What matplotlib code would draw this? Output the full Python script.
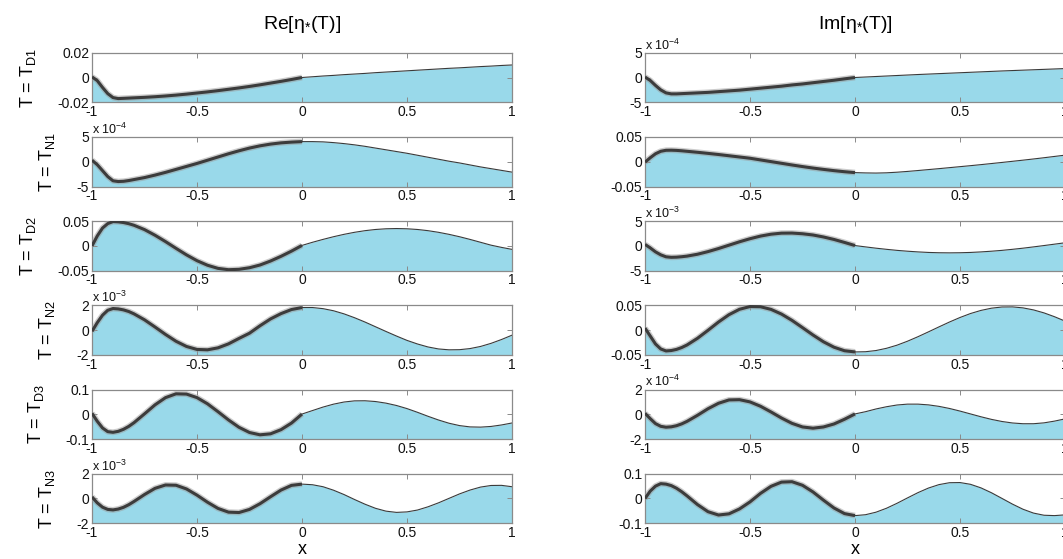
import matplotlib
matplotlib.use("Agg")
import matplotlib.pyplot as plt
import numpy as np

plt.rcParams['font.family'] = ['Liberation Sans', 'DejaVu Sans']
plt.rcParams['mathtext.fontset'] = 'custom'
plt.rcParams['mathtext.rm'] = 'Liberation Sans'
plt.rcParams['mathtext.it'] = 'Liberation Sans:italic'
plt.rcParams['axes.unicode_minus'] = False

# spatial coordinate (shared by every panel)
x = [-1, -0.975, -0.95, -0.925, -0.9, -0.875, -0.85, -0.825, -0.8,
     -0.75, -0.7, -0.65, -0.6, -0.55, -0.5, -0.45, -0.4, -0.35, -0.3, -0.25,
     -0.2, -0.15, -0.1, -0.05, 0,
     0.05, 0.1, 0.15, 0.2, 0.25, 0.3, 0.35, 0.4, 0.45, 0.5, 0.55, 0.6, 0.65,
     0.7, 0.75, 0.8, 0.85, 0.9, 0.95, 1.0]

# Re[eta*(T)] profiles (values in axis units, see exponents below)
re_d1 = [0.0005, -0.0025, -0.0080, -0.0130, -0.0162, -0.0170, -0.0168, -0.0166, -0.0164,
         -0.0160, -0.0155, -0.0149, -0.0142, -0.0134, -0.0125, -0.0116, -0.0106, -0.0095, -0.0084, -0.0072,
         -0.0059, -0.0045, -0.0031, -0.0016, 0.0000,
         0.0006, 0.0012, 0.0017, 0.0023, 0.0028, 0.0033, 0.0039, 0.0044, 0.0049, 0.0054, 0.0059, 0.0064, 0.0069,
         0.0074, 0.0078, 0.0083, 0.0088, 0.0092, 0.0097, 0.0101]
re_n1 = [0.3, -0.6, -1.8, -3.0, -3.85, -4.0, -3.95, -3.8, -3.6,
         -3.2, -2.7, -2.15, -1.55, -0.95, -0.35, 0.3, 0.95, 1.6, 2.2, 2.75,
         3.2, 3.55, 3.8, 3.95, 4.05,
         4.05, 4.0, 3.85, 3.65, 3.4, 3.1, 2.75, 2.4, 2.05, 1.7, 1.3, 0.9, 0.5,
         0.1, -0.25, -0.65, -1.05, -1.4, -1.75, -2.1]
re_d2 = [0.000, 0.020, 0.036, 0.045, 0.049, 0.0485, 0.0471, 0.0448, 0.0416,
         0.0329, 0.0215, 0.0087, -0.0049, -0.0181, -0.0298, -0.0390, -0.0453, -0.0480, -0.0472, -0.0440,
         -0.0385, -0.0305, -0.0210, -0.0105, 0.001,
         0.0073, 0.0131, 0.0185, 0.0233, 0.0274, 0.0307, 0.0331, 0.0345, 0.0350, 0.0345, 0.0331, 0.0307, 0.0274,
         0.0233, 0.0185, 0.0131, 0.0073, 0.0015, -0.0030, -0.0070]
re_n2 = [-0.1, 0.6, 1.2, 1.6, 1.74, 1.71, 1.63, 1.50, 1.31,
         0.83, 0.25, -0.35, -0.90, -1.32, -1.56, -1.59, -1.43, -1.11, -0.67, -0.25,
         0.35, 0.90, 1.33, 1.66, 1.82,
         1.82, 1.73, 1.56, 1.31, 1.00, 0.65, 0.27, -0.11, -0.48, -0.83, -1.12, -1.36, -1.52,
         -1.59, -1.58, -1.49, -1.32, -1.07, -0.76, -0.41]
re_d3 = [0.004, -0.028, -0.055, -0.070, -0.0726, -0.0687, -0.0605, -0.0487, -0.0338,
         0.0018, 0.0381, 0.0672, 0.0826, 0.0816, 0.0673, 0.0423, 0.0105, -0.0227, -0.0524, -0.0734,
         -0.0827, -0.0787, -0.0620, -0.0353, 0.001,
         0.0151, 0.0291, 0.0409, 0.0495, 0.0542, 0.0546, 0.0515, 0.0450, 0.0355, 0.0230, 0.0080, -0.0080, -0.0230,
         -0.0360, -0.0455, -0.0508, -0.0517, -0.0490, -0.0430, -0.0350]
re_n3 = [0.13, -0.35, -0.70, -0.88, -0.92, -0.85, -0.71, -0.50, -0.24,
         0.32, 0.82, 1.09, 1.07, 0.77, 0.27, -0.30, -0.80, -1.10, -1.13, -0.88,
         -0.42, 0.14, 0.68, 1.06, 1.16,
         1.11, 0.95, 0.67, 0.32, -0.08, -0.46, -0.79, -1.02, -1.12, -1.08, -0.93, -0.67, -0.35,
         0.01, 0.37, 0.68, 0.92, 1.05, 1.06, 0.95]

# Im[eta*(T)] profiles
im_d1 = [0.1, -0.6, -1.6, -2.5, -3.1, -3.3, -3.3, -3.25, -3.2,
         -3.1, -3.0, -2.85, -2.7, -2.55, -2.35, -2.15, -1.95, -1.75, -1.5, -1.3,
         -1.05, -0.8, -0.55, -0.27, 0.0,
         0.10, 0.20, 0.30, 0.40, 0.50, 0.60, 0.69, 0.78, 0.87, 0.96, 1.05, 1.14, 1.23,
         1.32, 1.40, 1.48, 1.56, 1.64, 1.72, 1.80]
im_n1 = [-0.001, 0.008, 0.016, 0.021, 0.023, 0.0232, 0.0228, 0.0220, 0.0210,
         0.0190, 0.0168, 0.0145, 0.0120, 0.0095, 0.0070, 0.0036, 0.0002, -0.0032, -0.0066, -0.0098,
         -0.0128, -0.0155, -0.0180, -0.0202, -0.0220,
         -0.0226, -0.0229, -0.0224, -0.0212, -0.0196, -0.0178, -0.0159, -0.0140, -0.0120, -0.0100, -0.0080, -0.0059, -0.0037,
         -0.0015, 0.0008, 0.0031, 0.0055, 0.0080, 0.0106, 0.0132]
im_d2 = [0.3, -0.4, -1.2, -1.8, -2.2, -2.3, -2.27, -2.18, -2.06,
         -1.68, -1.15, -0.53, 0.15, 0.83, 1.45, 1.98, 2.36, 2.57, 2.59, 2.45,
         2.2, 1.8, 1.3, 0.7, 0.07,
         -0.20, -0.46, -0.69, -0.90, -1.07, -1.21, -1.32, -1.38, -1.40, -1.38, -1.32, -1.21, -1.07,
         -0.90, -0.69, -0.46, -0.20, 0.07, 0.35, 0.63]
im_n2 = [0.004, -0.012, -0.028, -0.038, -0.042, -0.0412, -0.0389, -0.0351, -0.0300,
         -0.0165, -0.0004, 0.0163, 0.0311, 0.0420, 0.0475, 0.0471, 0.0418, 0.0323, 0.0196, 0.0050,
         -0.0099, -0.0236, -0.0345, -0.0416, -0.0440,
         -0.0436, -0.0412, -0.0367, -0.0304, -0.0224, -0.0133, -0.0035, 0.0065, 0.0163, 0.0254, 0.0334, 0.0397, 0.0442,
         0.0466, 0.0468, 0.0448, 0.0407, 0.0347, 0.0270, 0.0182]
im_d3 = [0.08, -0.35, -0.75, -0.97, -1.04, -1.01, -0.92, -0.77, -0.57,
         -0.08, 0.45, 0.89, 1.16, 1.18, 1.00, 0.65, 0.19, -0.30, -0.73, -1.02,
         -1.12, -1.02, -0.78, -0.40, 0.03,
         0.21, 0.43, 0.61, 0.75, 0.82, 0.82, 0.76, 0.64, 0.47, 0.26, 0.03, -0.20, -0.41,
         -0.58, -0.70, -0.76, -0.76, -0.69, -0.55, -0.37]
im_n3 = [0.0, 0.030, 0.050, 0.0599, 0.058, 0.0521, 0.0414, 0.0272, 0.0107,
         -0.0245, -0.0532, -0.0666, -0.0618, -0.0421, -0.0137, 0.0207, 0.0491, 0.0661, 0.0677, 0.0533,
         0.0264, -0.0068, -0.0383, -0.0609, -0.0690,
         -0.0654, -0.0552, -0.0393, -0.0194, 0.0024, 0.0237, 0.0422, 0.0560, 0.0637, 0.0643, 0.0572, 0.0428, 0.0231,
         0.0003, -0.0227, -0.0433, -0.0588, -0.0675, -0.0690, -0.0660]

row_labels = ['D1', 'N1', 'D2', 'N2', 'D3', 'N3']
re_limits = [0.02, 5, 0.05, 2, 0.1, 2]
im_limits = [5, 0.05, 5, 0.05, 2, 0.1]
re_exponents = [None, -4, None, -3, None, -3]
im_exponents = [-4, None, -3, None, -4, None]
xticks = [-1, -0.5, 0, 0.5, 1]
col_titles = ['Re[η$_{\\mathregular{*}}$(T)]', 'Im[η$_{\\mathregular{*}}$(T)]']

re_series = [re_d1, re_n1, re_d2, re_n2, re_d3, re_n3]
im_series = [im_d1, im_n1, im_d2, im_n2, im_d3, im_n3]

W, H = 1063, 559
fig = plt.figure(figsize=(W / 100, H / 100), dpi=100)

FILL = '#99D9EA'
FRAME = '#8a8a8a'
col_left = [92, 645]
ax_w = 420
ax_h = 49.6
row_top0 = 52.7
row_step = 84.2

xa = np.array(x)
split = xa <= 0


def fmt(v):
    return '%g' % v


for c, (series, limits, exps) in enumerate([(re_series, re_limits, re_exponents),
                                            (im_series, im_limits, im_exponents)]):
    for r in range(6):
        top = row_top0 + r * row_step
        ax = fig.add_axes([col_left[c] / W, 1 - (top + ax_h) / H, ax_w / W, ax_h / H])
        y = np.array(series[r])
        lim = limits[r]
        ax.fill_between(xa, y, -lim, color=FILL, linewidth=0, zorder=1)
        ax.plot(xa, y, color='#3a3a3a', lw=0.8, zorder=2)
        ax.plot(xa[split], y[split], color='#9a9a9a', lw=4.2, alpha=0.5,
                solid_capstyle='butt', zorder=3)
        ax.plot(xa[split], y[split], color='#3c3c3c', lw=2.2,
                solid_capstyle='butt', zorder=4)
        ax.set_xlim(-1, 1)
        ax.set_ylim(-lim, lim)
        ax.set_xticks(xticks)
        ax.set_xticklabels([fmt(t) for t in xticks])
        yt = [-lim, 0, lim]
        ax.set_yticks(yt)
        ax.set_yticklabels([fmt(t) for t in yt])
        ax.tick_params(direction='in', length=3.5, width=0.7, color=FRAME,
                       top=True, right=True, labelsize=10, pad=2,
                       labelcolor='#111111')
        for s in ax.spines.values():
            s.set_color(FRAME)
            s.set_linewidth(0.9)
        if exps[r] is not None:
            ax.text(0.0, 1.0, 'x 10$^{\\mathregular{%d}}$' % exps[r],
                    transform=ax.transAxes, ha='left', va='bottom',
                    fontsize=9, color='#111111')
        if c == 0:
            ax.set_ylabel('T = T$_{\\mathregular{%s}}$' % row_labels[r],
                          fontsize=13, labelpad=14)
        if r == 0:
            ax.set_title(col_titles[c], fontsize=14, pad=17)
        if r == 5:
            ax.set_xlabel('x', fontsize=13, labelpad=1)

fig.savefig('out.png', dpi=100)
